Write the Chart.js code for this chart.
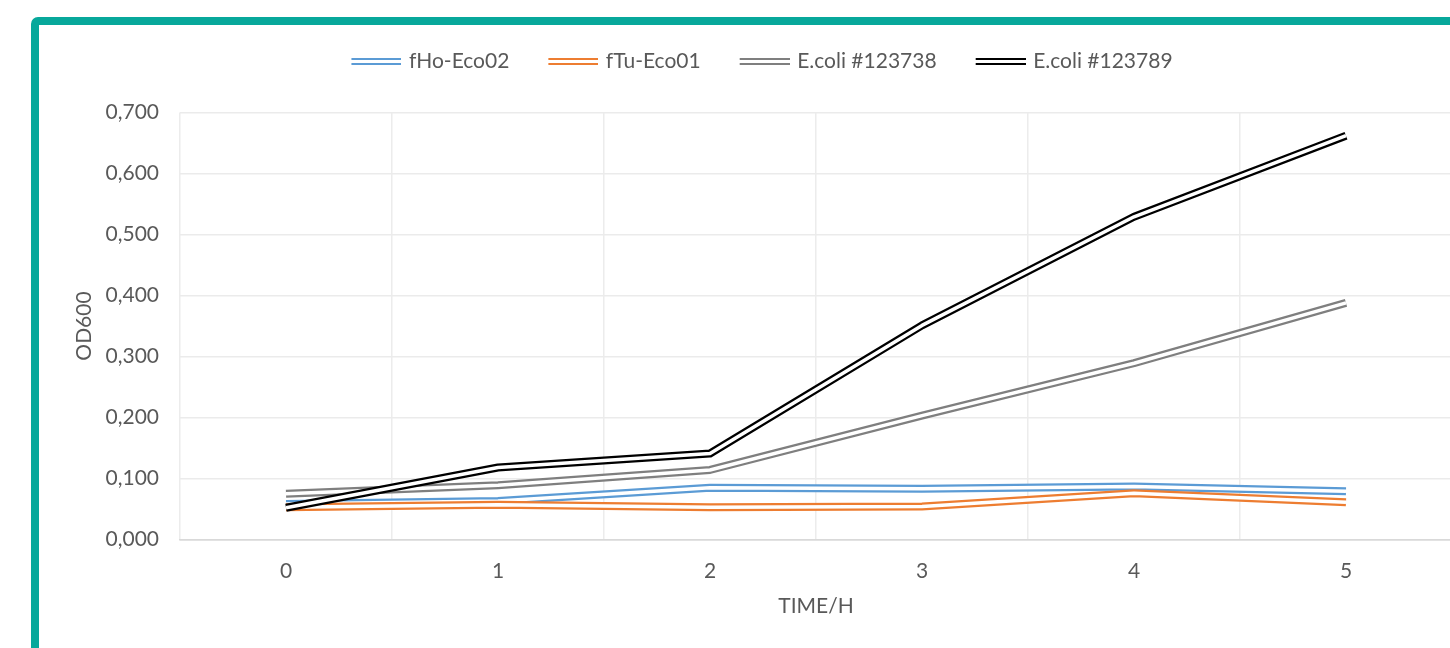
<!DOCTYPE html>
<html>
<head>
<meta charset="utf-8">
<script src="https://cdn.jsdelivr.net/npm/chart.js@4.4.1/dist/chart.umd.min.js"></script>
<style>
  html, body { margin: 0; padding: 0; background: #fff; overflow: hidden; width: 1450px; height: 648px; }
  #frame { position: absolute; left: 31px; top: 17px; border: 8px solid #07a89b; border-radius: 7px;
           width: 1480px; height: 700px; background: #fff; }
  #chart { display: block; }
</style>
</head>
<body>
<div id="frame"><canvas id="chart" width="1440" height="620"></canvas></div>
<script>
// Growth curves: optical density over time
const timeLabels = ['0', '1', '2', '3', '4', '5'];
const yTickLabels = ['0,000', '0,100', '0,200', '0,300', '0,400', '0,500', '0,600', '0,700'];
const seriesNames = ['fHo-Eco02', 'fTu-Eco01', 'E.coli #123738', 'E.coli #123789'];
const fHoEco02 = [0.058, 0.063, 0.085, 0.083, 0.087, 0.079];
const fTuEco01 = [0.053, 0.057, 0.053, 0.054, 0.076, 0.061];
const ecoli123738 = [0.075, 0.089, 0.114, 0.203, 0.289, 0.388];
const ecoli123789 = [0.052, 0.118, 0.141, 0.351, 0.529, 0.662];

const seriesColors = ['#5b9bd5', '#ed7d31', '#7f7f7f', '#000000'];
const TEXT = '#595959';
const FONT = 'Lato';
const FS = 21;

// legend swatch: a short double line drawn into a small canvas
const SW_BOX = 76, SW_EXT = 3, SW_LEN = 50;
function makeSwatch(color) {
  const c = document.createElement('canvas');
  c.width = SW_BOX + 2 * SW_EXT;
  c.height = 9;
  const g = c.getContext('2d');
  const x0 = c.width - SW_LEN;
  g.fillStyle = color;
  g.fillRect(x0, 1, SW_LEN, 7);
  g.fillStyle = '#ffffff';
  g.fillRect(x0, 3, SW_LEN, 3);
  return c;
}

// draws the white core that turns each thick stroke into a double line
const doubleLine = {
  id: 'doubleLine',
  afterDatasetDraw(chart, args) {
    const pts = args.meta.data;
    if (!pts.length) return;
    const ctx = chart.ctx;
    const a = chart.chartArea;
    ctx.save();
    ctx.beginPath();
    ctx.rect(a.left, a.top - 10, a.right - a.left, a.bottom - a.top + 20);
    ctx.clip();
    ctx.beginPath();
    pts.forEach((p, i) => (i ? ctx.lineTo(p.x, p.y) : ctx.moveTo(p.x, p.y)));
    ctx.strokeStyle = '#ffffff';
    ctx.lineWidth = 3.5;
    ctx.lineJoin = 'round';
    ctx.lineCap = 'butt';
    ctx.stroke();
    ctx.restore();
  }
};

// extra space under the legend row
const legendSpace = {
  id: 'legendSpace',
  beforeInit(chart) {
    const lg = chart.legend;
    const fit = lg.fit;
    lg.fit = function () { fit.call(this); this.height = 71.5; };
  }
};

const seriesValues = [fHoEco02, fTuEco01, ecoli123738, ecoli123789];
const datasets = seriesNames.map((name, i) => ({
  label: name,
  data: seriesValues[i],
  borderColor: seriesColors[i],
  backgroundColor: seriesColors[i],
  borderWidth: 8,
  pointRadius: 0,
  pointHoverRadius: 0,
  pointStyle: makeSwatch(seriesColors[i]),
  tension: 0,
  borderJoinStyle: 'round',
  order: seriesNames.length - i
}));

Chart.defaults.font.family = FONT;
Chart.defaults.color = TEXT;

new Chart(document.getElementById('chart'), {
  type: 'line',
  data: { labels: timeLabels, datasets },
  options: {
    responsive: false,
    animation: false,
    events: [],
    layout: { padding: { left: 4, right: 27, top: 16, bottom: 26 } },
    plugins: {
      tooltip: { enabled: false },
      legend: {
        position: 'top',
        labels: {
          usePointStyle: true,
          pointStyleWidth: SW_BOX,
          padding: 10,
          color: TEXT,
          font: { size: FS, family: FONT },
          sort: (a, b) => a.datasetIndex - b.datasetIndex
        }
      }
    },
    scales: {
      x: {
        type: 'category',
        offset: true,
        afterFit(scale) { scale.height = 79.5; },
        grid: { offset: true, color: '#ececec', lineWidth: 1.5, drawTicks: false },
        border: { display: true, color: '#d9d9d9', width: 1.5 },
        ticks: { padding: 19.5, color: TEXT, font: { size: FS, family: FONT } },
        title: { display: true, text: 'TIME/H', color: TEXT, font: { size: FS, family: FONT }, padding: { top: 12, bottom: 0 } }
      },
      y: {
        min: 0,
        max: 0.7,
        afterFit(scale) { scale.width = 137; },
        grid: {
          color: (c) => (c.tick && c.tick.value === 0 ? '#d9d9d9' : '#ebebeb'),
          lineWidth: 1.5,
          drawTicks: false
        },
        border: { display: false },
        ticks: {
          stepSize: 0.1,
          padding: 21,
          color: TEXT,
          font: { size: FS, family: FONT },
          callback: (v, i) => yTickLabels[i]
        },
        title: { display: true, text: 'OD600', color: TEXT, font: { size: FS, family: FONT }, padding: { top: 29, bottom: 0 } }
      }
    }
  },
  plugins: [legendSpace, doubleLine]
});
</script>
</body>
</html>
